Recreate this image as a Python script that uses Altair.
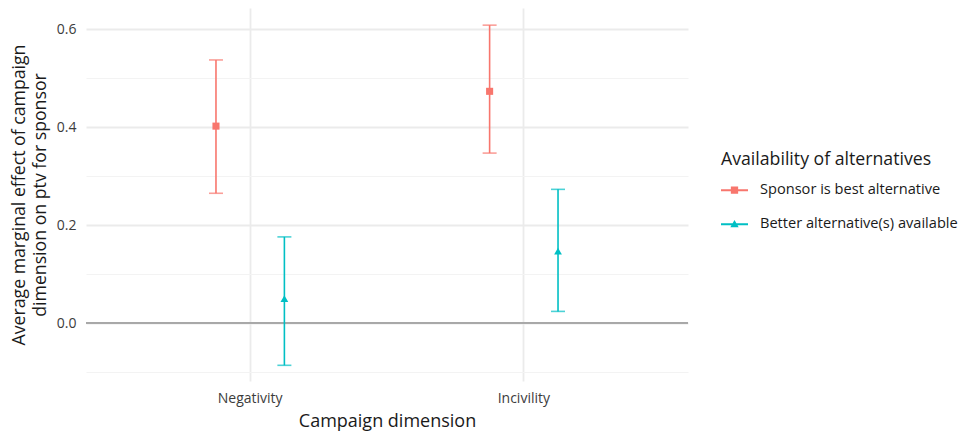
import altair as alt
import pandas as pd

dimensions = ["Negativity", "Negativity", "Incivility", "Incivility"]
groups_col = ["Sponsor is best alternative", "Better alternative(s) available",
              "Sponsor is best alternative", "Better alternative(s) available"]
estimate = [0.402, 0.050, 0.473, 0.147]
lower = [0.265, -0.086, 0.347, 0.024]
upper = [0.537, 0.176, 0.608, 0.273]

dim_order = ["Negativity", "Incivility"]
group_order = ["Sponsor is best alternative", "Better alternative(s) available"]
group_colors = ["#F8766D", "#00BFC4"]
y_ticks = [-0.1, 0.0, 0.1, 0.2, 0.3, 0.4, 0.5, 0.6]

df = pd.DataFrame({
    "dimension": dimensions,
    "group": groups_col,
    "estimate": estimate,
    "lower": lower,
    "upper": upper,
})

FONT = "Open Sans"
minor_test = "abs(round(datum.value*10)) % 2 == 1"

yscale = alt.Scale(domain=[-0.118, 0.643], nice=False, zero=False)
yaxis = alt.Axis(
    values=y_ticks, grid=True,
    labelExpr=f"{minor_test} ? '' : format(datum.value, '.1f')",
    gridColor={"condition": {"test": minor_test, "value": "#f3f3f3"}, "value": "#ebebeb"},
    gridWidth={"condition": {"test": minor_test, "value": 1.0}, "value": 1.8},
    labelFontSize=14, labelColor="#3c3c3c", labelPadding=10,
    titleFontSize=17.7, titleFontWeight="normal", titleColor="#1a1a1a",
    titlePadding=7, titleLineHeight=21,
)

# fill/stroke scales: data-driven domain (ordered by sort), so they don't merge with the legend
grp_scale = alt.Scale(range=group_colors)
stroke_enc = alt.Stroke("group:N", sort=group_order, scale=grp_scale, legend=None)
fill_enc = alt.Fill("group:N", sort=group_order, scale=grp_scale, legend=None)

base = alt.Chart(df).encode(
    x=alt.X("dimension:N", sort=dim_order,
            scale=alt.Scale(domain=dim_order, paddingInner=0.5, paddingOuter=0.35),
            axis=alt.Axis(title="Campaign dimension", labelAngle=0, bandPosition=0.5,
                          grid=True, gridColor="#ebebeb", gridWidth=1.8,
                          labelFontSize=14, labelColor="#3c3c3c", labelPadding=10,
                          titleFontSize=18, titleFontWeight="normal", titleColor="#1a1a1a",
                          titlePadding=7)),
    xOffset=alt.XOffset("group:N", sort=group_order,
                        scale=alt.Scale(domain=group_order, paddingInner=0, paddingOuter=0)),
)

zero = alt.Chart(df).mark_rule(color="#a9a9a9", strokeWidth=1.8).encode(y=alt.datum(0))

rules = base.mark_rule(strokeWidth=1.6).encode(
    y=alt.Y("lower:Q", scale=yscale, axis=yaxis,
            title=["Average marginal effect of campaign", "dimension on ptv for sponsor"]),
    y2="upper:Q",
    stroke=stroke_enc,
)
caps_lo = base.mark_tick(orient="horizontal", size=14, thickness=1.6).encode(
    y="lower:Q", fill=fill_enc)
caps_hi = base.mark_tick(orient="horizontal", size=14, thickness=1.6).encode(
    y="upper:Q", fill=fill_enc)

pts_sq = base.transform_filter(alt.datum.group == group_order[0]).mark_point(
    filled=True, opacity=1, shape="square", size=50).encode(y="estimate:Q", fill=fill_enc)
pts_tri = base.transform_filter(alt.datum.group == group_order[1]).mark_point(
    filled=True, opacity=1, shape="triangle-up", size=60).encode(y="estimate:Q", fill=fill_enc)

legend_paths = [
    "M-1,-0.07L1,-0.07L1,0.07L-1,0.07Z M-0.27,-0.27L0.27,-0.27L0.27,0.27L-0.27,0.27Z",
    "M-1,-0.07L1,-0.07L1,0.07L-1,0.07Z M0,-0.31L0.31,0.23L-0.31,0.23Z",
]
leg = alt.Legend(
    title="Availability of alternatives", orient="none", legendX=635, legendY=143,
    titleFontSize=17.7, titleFontWeight="normal", titleColor="#1a1a1a", titleFont=FONT,
    labelFontSize=14.6, labelColor="#1a1a1a", labelFont=FONT, labelOffset=12,
    labelLimit=400, titleLimit=400,
    symbolSize=729, symbolStrokeWidth=0, rowPadding=13, titlePadding=8,
)
legend_layer = base.mark_point(filled=True, opacity=1, size=50, clip=True).encode(
    y=alt.value(-500),
    color=alt.Color("group:N", sort=group_order,
                    scale=alt.Scale(domain=group_order, range=group_colors), legend=leg),
    shape=alt.Shape("group:N", sort=group_order,
                    scale=alt.Scale(domain=group_order, range=legend_paths), legend=leg),
)

chart = alt.layer(zero, rules, caps_lo, caps_hi, pts_sq, pts_tri, legend_layer).properties(
    width=602, height=373,
    autosize=alt.AutoSizeParams(type="none"),
    padding={"left": 78, "top": 0, "right": 274, "bottom": 50},
).configure(font=FONT).configure_view(stroke=None).configure_axis(
    domain=False, ticks=False, labelFont=FONT, titleFont=FONT
)

chart.save("out.html", embed_options={"renderer": "svg", "actions": False})
